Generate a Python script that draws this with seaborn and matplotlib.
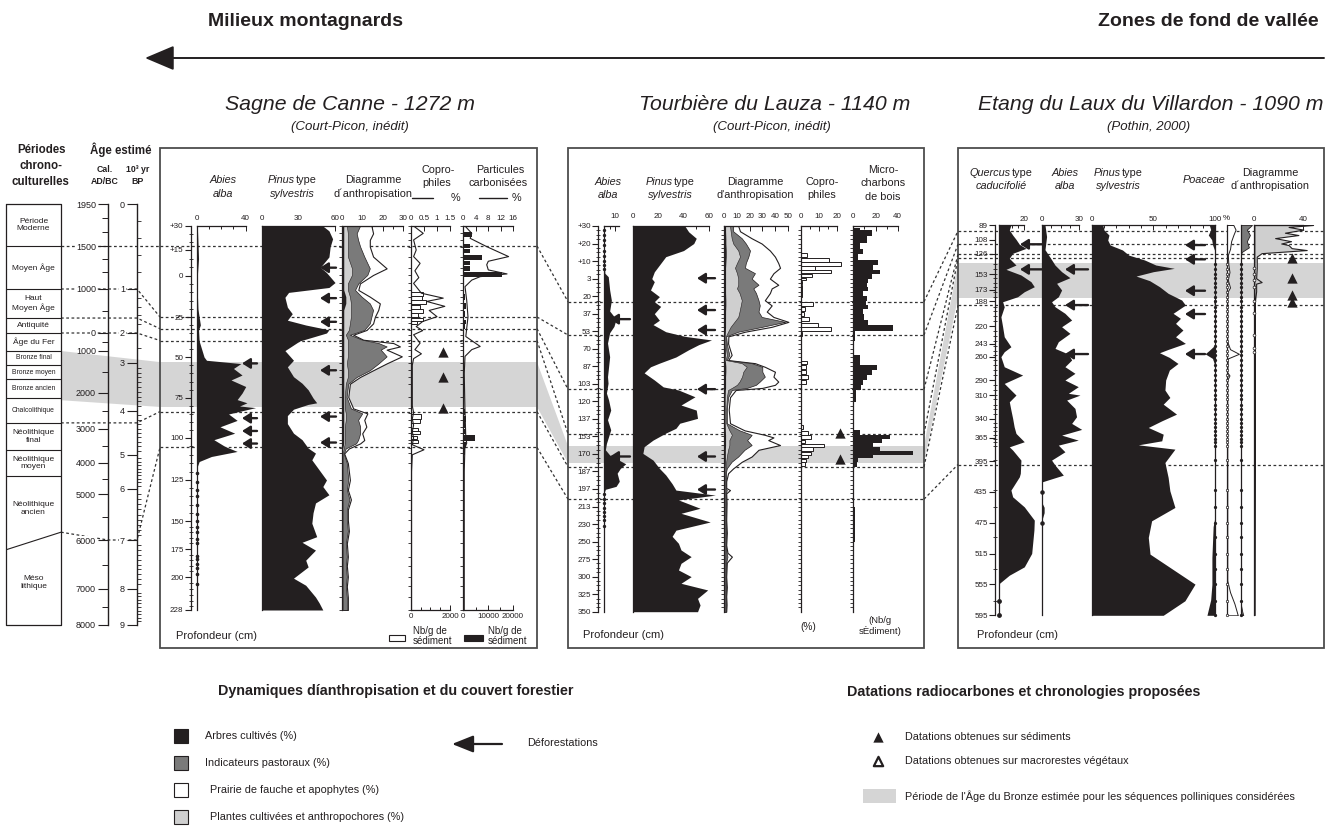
import numpy as np
import matplotlib
matplotlib.use("Agg")
import matplotlib.pyplot as plt
from matplotlib.patches import Rectangle, Polygon
from matplotlib.ticker import FixedLocator, NullLocator
import seaborn as sns

sns.set_theme(style="white")
plt.rcParams["font.family"] = ["Liberation Sans", "DejaVu Sans"]

# ======================= DATA =======================
# ---- chronology ----
CAL_TICKS = [1950, 1500, 1000, 0, -1000, -2000, -3000, -4000, -5000, -6000, -7000, -8000]
CAL_LABELS = ["1950", "1500", "1000", "0", "1000", "2000", "3000", "4000", "5000", "6000", "7000", "8000"]
CAL_MINOR = [1800, 1650, 1350, 1200, 500, -500, -1500, -2500, -3500, -4500, -5500, -6500, -7500]
BP_TICKS = [0, 1, 2, 3, 4, 5, 6, 7, 8, 9]
PERIODS = ["Période\nModerne", "Moyen Âge", "Haut\nMoyen Âge", "Antiquité", "Âge du Fer",
           "Bronze final", "Bronze moyen", "Bronze ancien", "Chalcolithique",
           "Néolithique\nfinal", "Néolithique\nmoyen", "Néolithique\nancien", "Méso\nlithique"]
PERIOD_LIMITS = [1950, 1500, 1000, 340, 0, -1000, -1330, -1670, -2140, -2830, -3620, -4420, -5830, -8000]
PERIOD_SLANT_LEFT = -6200
BRONZE_CAL = (-1000, -2200)
CHRONO_LINK_CAL = [1500, 1000, 340, 0, -2830]

# ---- Sagne de Canne ----
S_DEPTH_TICKS = [-30, -15, 0, 25, 50, 75, 100, 125, 150, 175, 200, 228]
S_DEPTH_LABELS = ["+30", "+15", "0", "25", "50", "75", "100", "125", "150", "175", "200", "228"]
S_ABIES_DEPTH = [-30, -20, -10, 0, 10, 20, 25, 30, 33, 40, 45, 50, 52, 54, 57, 61, 64, 68, 72, 76,
                 78, 80, 81, 85, 89, 93, 97, 101, 105, 108, 111, 114, 117, 120, 228]
S_ABIES = [0.5, 1, 1.5, 0.5, 0.5, 1, 2, 3, 1.5, 2, 4, 6, 8, 36, 30, 37, 28, 40, 37, 33,
           41, 35, 48, 26, 33, 19, 31, 14, 23, 33, 12, 2, 0.5, 0, 0]
S_ABIES_DOTS = [121, 126, 131, 135, 140, 146, 150, 155, 160, 166, 170, 181, 184, 188, 192, 197, 206]
S_PINUS_DEPTH = [-30, -27, -22, -17, -11, -5, -2, 4, 7, 10, 13, 19, 23, 27, 30, 33, 35, 40, 46, 52,
                 56, 62, 66, 70, 75, 78, 79, 82, 86, 91, 97, 101, 106, 109, 113, 119, 125, 129, 134, 139,
                 145, 152, 164, 169, 176, 185, 191, 201, 207, 217, 222, 228]
S_PINUS = [50, 55, 58, 56, 55, 48, 53, 60, 55, 22, 19, 21, 25, 21, 36, 55, 53, 31, 19, 26,
           21, 26, 33, 38, 42, 45, 38, 26, 21, 21, 26, 33, 38, 44, 41, 47, 53, 50, 55, 44,
           42, 41, 45, 33, 44, 36, 38, 26, 36, 44, 47, 50]
S_DIAG_DEPTH = [-30, -25.4, -21.3, -17.1, -11.2, -4.4, -0.6, 4.5, 8.5, 12.6, 16.7, 20.7, 24.8, 29, 33.1,
                36.1, 39.2, 41.3, 43.4, 45.4, 49.6, 53.9, 58.1, 62.2, 66.3, 74.4, 81.5, 84.6, 88.7, 92.9,
                97.1, 101.2, 103.2, 106.2, 109.2, 115, 125, 131, 136.9, 143, 149.4, 159, 170, 181.8, 190,
                199.7, 208, 217.3, 228]
S_DIAG_PRAIRIE = [14.5, 15.3, 13.7, 13.7, 15.3, 21.9, 15.3, 8.9, 8.1, 13.7, 18.6, 17.8, 16.2, 15.3, 12.1,
                  5.6, 10.5, 25.2, 28.4, 21.9, 29.3, 21.9, 15.3, 8.9, 4, 3.2, 5.6, 12.5, 11, 12,
                  10, 11, 9, 3.5, 1.2, 3, 4, 3, 4.5, 3, 3, 3.5, 2.5, 3, 2.5, 3, 2.5, 3, 3]
S_DIAG_PASTORAL = [8.9, 7.3, 8, 9, 11, 13.7, 12.5, 8.1, 6.5, 9.7, 13.7, 15.3, 14.5, 13.7, 11,
                   4, 10, 18, 21.9, 19, 21.9, 18, 13.7, 7.3, 3.2, 2.4, 4.5, 10, 8, 9,
                   9, 8, 7, 2, 1, 2.5, 3.2, 2.5, 3.8, 2.5, 2.5, 3, 2, 2.5, 2, 2.5, 2, 2.5, 2.5]
S_DIAG_CULTIVEES = [2.5, 3, 3, 3, 3, 5, 5, 3, 3, 4, 4.5, 4.5, 4.5, 4, 3.5,
                    2, 3, 3, 3, 3, 3, 2.5, 3, 3, 2, 1.5, 1.5, 2, 2, 1.5,
                    1.5, 1.5, 1.5, 1, 0.5, 0.5, 0.5, 0.5, 0.5, 0.5, 0.5, 0.5, 0.5, 0.5, 0.5, 0.5, 0.5, 0.5, 0.5]
S_DIAG_ARBRES = [1, 1, 1, 1, 1, 1, 1, 1, 1, 2, 2, 1, 1, 1, 1,
                 1, 1, 1, 1, 1, 1, 1, 1, 1, 1, 1, 1, 1, 1, 1,
                 1, 1, 1, 0.5, 0.3, 0.3, 0.3, 0.3, 0.3, 0.3, 0.3, 0.3, 0.3, 0.3, 0.3, 0.3, 0.3, 0.3, 0.3]
S_COPRO_PCT_DEPTH = [-30, -25.4, -21.3, -15, -11.2, -7.3, -3, 1, 4.5, 10.5, 13.5, 15.5, 18.5, 21, 24.8,
                     27.8, 31, 33.5, 36.1, 41.3, 45.4, 48, 51, 55, 60, 70, 80, 84, 88, 92,
                     96, 100, 104, 107, 110, 120, 150, 228]
S_COPRO_PCT = [0.1, 0.47, 0.1, 0.2, 0.1, 0.35, 0.15, 0.3, 0.1, 0.4, 1.24, 0.6, 1.3, 0.7, 1.0,
               0.45, 0.2, 0.45, 0.1, 0.35, 0.15, 0.4, 0.1, 0.05, 0.05, 0.05, 0.05, 0.1, 0.05, 0.1,
               0.05, 0.1, 0.05, 0.5, 0.05, 0.02, 0.02, 0.02]
S_COPRO_NB_DEPTH = [11, 13.5, 16, 19, 21.5, 24, 26.5, 28.5, 86.4, 89.5, 94.6, 96.7, 99.9, 102]
S_COPRO_NB = [630, 570, 780, 460, 630, 370, 630, 290, 520, 460, 375, 460, 290, 375]
S_CHAR_PCT_DEPTH = [-30, -25.4, -22.3, -17.1, -11.2, -8.5, -6.5, -3.5, -1.2, 0.4, 2.5, 6.5, 15, 25, 37.2,
                    43.4, 45.4, 49.6, 60, 80, 100, 103, 106, 120, 150, 228]
S_CHAR_PCT = [0.55, 2.7, 2.2, 7.5, 14.5, 8, 7.5, 8, 14, 5.4, 2.7, 0.55, 1.1, 1.5, 0.8,
              5.4, 2.7, 0.55, 0.3, 0.5, 0.8, 1.1, 0.5, 0.3, 0.3, 0.3]
S_CHAR_NB_DEPTH = [-24.5, -21, -17.5, -14.5, -10.8, -7.5, -4.5, -1, 2, 13, 18, 23, 28, 31, 84, 88, 92, 96,
                   99.9, 104, 108, 112]
S_CHAR_NB = [3400, 300, 2700, 2700, 7400, 2700, 2700, 15500, 400, 700, 900, 600, 1000, 700, 800, 1200,
             600, 900, 4700, 1000, 500, 300]
S_TRIANGLES = [47, 62, 81.5]
S_ARROWS_PINUS = [-4.8, 13.5, 28, 58.1, 86.6, 102.7]
S_ARROWS_ABIES = [53.9, 87.6, 95.6, 103.3]
S_LINES = [-17.5, 25, 32.3, 39.7, 83.5, 105.6]
S_BAND = (53.1, 80.6)

# ---- Tourbière du Lauza ----
L_DEPTH_TICKS = [-30, -20, -10, 3, 20, 37, 53, 70, 87, 103, 120, 137, 153, 170, 187, 197, 213, 230,
                 250, 275, 300, 325, 350]
L_DEPTH_LABELS = ["+30", "+20", "+10", "3", "20", "37", "53", "70", "87", "103", "120", "137", "153",
                  "170", "187", "197", "213", "230", "250", "275", "300", "325", "350"]
L_ABIES_DEPTH = [-30, -10, -1, 1.6, 14, 24, 34.4, 42, 48.6, 54.5, 64.5, 77.8, 87.5, 96.5, 102.5, 112,
                 118.7, 128.5, 137.8, 147, 159.8, 166, 171, 174.5, 179.6, 184, 188, 192.6, 195.5, 197.3,
                 200, 350]
L_ABIES = [0, 0, 0.5, 3.7, 5, 6.6, 5, 11, 9, 5, 3, 5, 4, 3, 3.5, 2, 4, 6, 3, 6,
           2, 1, 5, 11, 20, 15, 12, 14, 11, 1, 0, 0]
L_ABIES_DOTS = [-28, -25, -22, -19, -16, -13, -10, -7, -4, 202, 206, 210, 214, 218, 222, 226, 232]
L_PINUS_DEPTH = [-30, -26.7, -23, -20, -16, -12.5, -7, -2, 3, 6, 14, 20.5, 25.4, 30, 37, 43, 47, 53.5, 58,
                 61.5, 66, 71, 78, 84, 87.5, 93, 99.5, 106, 109, 115.6, 123.6, 128.5, 136.5, 141, 145.6,
                 150, 156.6, 163, 169.5, 176, 184, 189, 194, 198, 202.6, 207, 214.7, 219.6, 228, 237,
                 244, 252.5, 262, 271.5, 281, 290.5, 300, 309.5, 319, 331, 340.5, 350]
L_PINUS = [41, 44, 50, 48, 40, 26, 21, 17, 15, 17, 14, 21, 17, 22, 17, 21, 16, 26, 41, 62,
           52, 44, 34, 21, 14, 9, 17, 24, 36, 49, 38, 50, 51, 37, 34, 26, 16, 9, 8, 16,
           21, 26, 31, 34, 65, 36, 53, 38, 61, 34, 31, 36, 38, 46, 38, 36, 46, 38, 59, 51, 53, 51]
L_DIAG_DEPTH = [-30, -27, -23, -20, -16, -12.5, -8.5, -5, -1, 3, 9, 12.5, 17, 24, 29, 35, 40, 44.5, 49,
                53.5, 58, 65, 71, 76, 81, 84, 87.5, 92, 96.5, 101, 104, 107, 109, 116, 128, 141, 147.5,
                151.6, 154, 156.6, 161.4, 166, 172.5, 177.6, 184, 188, 192.6, 196.4, 198, 201, 210, 226,
                240, 255, 266, 271.5, 280, 300, 315, 328, 340, 350]
L_DIAG_PRAIRIE = [11, 12.4, 21.6, 29.5, 36, 40, 42.6, 44, 38.8, 36, 42.6, 37.4, 36, 32, 37.4, 33.5, 38.8,
                  50.6, 37.4, 16.3, 3.2, 3, 4.5, 5.8, 3, 24.2, 32, 40, 38.8, 42.6, 40, 30, 9, 4.5, 3.5,
                  4.5, 16, 32, 38.8, 34.7, 44, 27, 21.6, 13.8, 7, 3, 1.5, 1.5, 4.5, 1.5, 1.8, 1.5, 2,
                  1.5, 2.5, 6, 2, 1.5, 2, 1.5, 1.8, 1.5]
L_DIAG_PASTORAL = [7, 7, 13.8, 17, 20.3, 19, 17, 16.3, 24.2, 21.6, 27, 22.9, 25, 27, 28, 27, 29.5, 48, 30,
                   11, 1.5, 2, 3, 4, 2, 21.6, 30, 30, 32, 28, 25, 18, 6, 3, 2, 2, 12, 21.6, 20, 18, 21.6,
                   16, 11, 5.8, 2, 1.2, 1.2, 1.2, 2, 1.2, 1.4, 1.2, 1.5, 1.2, 1.8, 2.5, 1.5, 1.2, 1.5,
                   1.2, 1.4, 1.2]
L_DIAG_CULTIVEES = [4.5, 5, 5.8, 7, 11, 12.4, 10, 8.4, 10, 11, 11, 10, 12, 13.8, 13, 12, 11, 8, 5, 3,
                    1.2, 1.2, 1.5, 2, 1.2, 13.8, 17.7, 15, 14, 12, 10, 6, 3, 2, 1.5, 1.5, 4, 6, 5, 4,
                    4, 3, 2, 1.5, 1.2, 1, 1, 1, 1, 1, 1, 1, 1, 1, 1, 1, 1, 1, 1, 1, 1, 1]
L_DIAG_ARBRES = [1, 1, 1.2, 1.2, 1.5, 1.5, 1.2, 1, 1, 1, 1, 1, 1, 1.2, 1.2, 1, 1, 1, 1, 0.8,
                 0.6, 0.6, 0.8, 0.8, 0.6, 1, 1.2, 1.2, 1, 1, 1, 1, 0.8, 0.6, 0.6, 0.6, 0.8, 1, 1, 1,
                 1, 0.8, 0.8, 0.8, 0.6, 0.6, 0.6, 0.6, 0.6, 0.6, 0.6, 0.6, 0.6, 0.6, 0.6, 0.6, 0.6,
                 0.6, 0.6, 0.6, 0.6, 0.6]
L_COPRO_DEPTH = [-13.3, -10.6, -7.8, -5, -2.2, 0.7, 3.5, 7, 11, 15, 19, 27.7, 32.4, 37.3, 41.6, 47.4, 51,
                 55.6, 83.3, 88, 92.5, 97, 101.7, 144.2, 149.6, 153.6, 158, 161.7, 165.5, 169.5, 172.7,
                 176, 179.8]
L_COPRO = [3.2, 15.9, 22.5, 7.9, 16.7, 6.3, 2.6, 0.8, 0.8, 0.8, 0.8, 7, 2.3, 1.5, 4.5, 9.7, 16.7, 0.6,
           3.2, 2.8, 2.8, 4, 2.8, 1, 4, 5.6, 2.5, 13, 6.8, 5.5, 4, 3, 2]
L_MICRO_DEPTH = [-28.9, -26, -22.2, -18.2, -15.2, -12.3, -9.1, -5.4, -1.9, 1, 4.9, 9.1, 12.8, 17.6, 22.6,
                 27, 30.2, 34, 39.8, 45, 50.5, 55.6, 69.6, 83.3, 88, 92.5, 97, 101.7, 106.5, 112, 128.5,
                 145, 149.6, 153.8, 157.3, 161.4, 165.5, 169.5, 172.7, 176, 179.8, 185.5, 198, 229.6,
                 271.5, 319, 348]
L_MICRO = [6, 16.5, 12, 6, 9, 4.5, 22.5, 18, 24, 17, 13, 12, 13.5, 9, 12, 11, 13.5, 9, 10, 13,
           36, 1.5, 1, 6, 21, 16.5, 12, 9, 7, 2, 1, 1, 6, 33, 25.5, 18, 24, 54, 18, 4.5, 3, 1, 1, 1.5,
           1, 1, 1]
L_TRIANGLES = [150, 174.5]
L_ARROWS_ABIES = [42, 172.5]
L_ARROWS_PINUS = [2.7, 33.5, 51.9, 108.2, 172.5, 197.5]
L_LINES = [25.4, 56.7, 108.4, 150.7, 182.6, 206.3]
L_BAND = (162.3, 178.8)

# ---- Etang du Laux du Villardon ----
V_DEPTH_TICKS = [89, 108, 126, 153, 173, 188, 220, 243, 260, 290, 310, 340, 365, 395, 435, 475, 515,
                 555, 595]
V_SAMPLES = [140, 146, 152, 158, 164, 170, 176, 182, 188, 195, 201, 207, 214, 220, 227, 233, 240, 246,
             252, 258, 264, 270, 277, 283, 290, 296, 303, 309, 315, 322, 328, 334, 340, 346, 351, 356,
             361, 366, 370, 375, 394, 433, 455, 475, 494, 515, 535, 555, 576, 595]
V_QUERCUS_DEPTH = [89, 95.5, 102, 107.6, 114, 119.3, 125.7, 132.2, 140.9, 146.5, 153.8, 162.5, 169, 175.5,
                   182, 188.5, 195, 208, 221, 233.9, 246.8, 253.3, 259.8, 272.8, 283.6, 294.4, 303, 309.5,
                   318.2, 329, 339.7, 350.6, 359.2, 370, 376.6, 380.8, 393.8, 411, 415.5, 432.7, 441.4,
                   454.4, 471.6, 484.6, 514.8, 532.2, 543, 553.7, 595]
V_QUERCUS = [9.4, 8.1, 10.8, 13.5, 16.2, 21.6, 10.8, 8.1, 13.5, 5.4, 17.5, 25.6, 28.3, 20.2, 14.8, 2.7,
             4, 1.3, 2.7, 4, 9.4, 4, 1.3, 4, 18.9, 4, 9.4, 13.5, 8.1, 9.4, 10.8, 12, 13.5, 20.2, 8.1,
             10.8, 17.5, 17, 16.2, 9.4, 10.8, 20.2, 28.3, 28, 26.2, 20.2, 8.1, 0, 0]
V_QUERCUS_DOTS = [576, 595]
V_ABIES_DEPTH = [89, 104, 121, 134, 141, 149.5, 157.3, 164.6, 173.3, 182, 188.5, 195, 203.5, 212.2,
                 220.9, 229.5, 240.3, 249, 256.3, 264, 272.7, 281.3, 290, 298.6, 307.2, 309.5, 316,
                 326.8, 337.6, 346.2, 354, 361.4, 367.9, 374.4, 383, 393.8, 400.3, 413.3, 421.9, 450,
                 455, 462, 470, 595]
V_ABIES = [2.2, 3.5, 2.2, 7.6, 10.4, 15.8, 22.6, 11.7, 15.8, 13.1, 7.6, 10.4, 18.5, 24, 15.8, 22.6,
           13.1, 10.4, 21.3, 24, 18.5, 26.7, 18.5, 29.4, 21.3, 30.8, 19.9, 26.7, 28, 24, 32.2, 15.8,
           29.4, 13.1, 18.5, 7.6, 10.4, 17.2, 0, 0, 1.5, 1.5, 0, 0]
V_ABIES_DOTS = [435, 475]
V_PINUS_DEPTH = [89, 95.5, 102, 108.5, 115, 121.4, 128, 134.4, 140.9, 145.2, 149.5, 155.2, 161.2, 169,
                 177.6, 186.3, 192.8, 203.5, 210, 216.5, 225.2, 233.9, 242.5, 250.3, 254.6, 260.7, 268.5,
                 277, 290, 303, 312.6, 321.3, 334.2, 342.9, 351.5, 360.2, 368.8, 374, 379.6, 396.9,
                 416.3, 433.6, 455.2, 472.5, 494.1, 515.7, 554.6, 576.2, 595]
V_PINUS = [9, 10, 14, 13, 15, 25, 30, 43, 52, 67, 50, 36, 47, 55, 62, 73, 76, 66, 72, 68,
           74, 68, 76, 62, 55, 63, 70, 63, 60, 59.4, 63.4, 58, 68.8, 56.8, 45.9, 58, 56.8, 37.8, 67.5,
           59.4, 62, 63.4, 67.5, 48.6, 45.9, 47.3, 83.8, 75.6, 58]
V_POACEAE_DEPTH = [89, 95, 102, 108, 115, 122, 185, 188, 195, 245, 252, 256, 262, 270, 470, 480, 520,
                   555, 575, 595]
V_POACEAE = [4.6, 3.5, 5.4, 2.7, 1.9, 0.3, 0.3, 1, 0.3, 0.3, 5, 8, 2, 0.3, 0.3, 1.5, 2.5, 2.5, 3.5, 6.5]
V_OPEN_DEPTH = [89, 95, 102, 110, 120, 128, 140, 150, 160, 170, 175, 185, 240, 250, 256, 262, 280, 284,
                290, 550, 565, 580, 595]
V_OPEN = [6, 8, 6, 4, 3, 1, 1.5, 2.5, 1, 3, 1, 0.5, 0.5, 3, 11, 1, 0.5, 2.5, 0.5, 0.5, 3, 7, 10]
V_GREY_DEPTH = [89, 95, 102, 110, 118, 124, 130, 580, 590, 595]
V_GREY = [11, 6, 9, 6, 8, 1, 0, 0, 1.5, 2.5]
V_DIAG_DEPTH = [89, 91.5, 95, 99, 102, 106, 110, 113, 115, 119, 121.5, 125.5, 130, 145, 158, 163, 165,
                175, 188, 595]
V_DIAG = [48, 28, 40, 25, 36, 17, 30, 22, 28, 30.5, 42.8, 6, 2, 2, 1.5, 6, 1.5, 1.5, 0.5, 0]
V_DIAG_DOTS = [145, 152, 160, 170, 188, 203, 232, 249, 253]
V_TRIANGLES = [132.2, 157.3, 179.8, 188.5]
V_ARROWS_QUERCUS = [114, 146.5]
V_ARROWS_ABIES = [146.5, 192.8, 256.3]
V_ARROWS_PINUS = [115, 133.5, 174.2, 204.4, 256.3]
V_LINES = [96.8, 114, 127, 132.2, 193.2, 399.5]
V_BAND = (137.9, 183.3)

# ======================= LAYOUT =======================
W, H = 1342, 827
CAL_ROWS = [204, 246, 289, 333, 351, 393, 429, 463, 494, 540, 589, 625]
BP_ROWS = [204, 289, 333, 363, 411, 455, 489, 540, 589, 625]
S_ROWS = [226, 250, 276, 317, 357, 398, 438, 480, 521, 549, 577, 610]
INK = "#231f20"
DARKG = "#7a7a7a"
LIGHTG = "#cfcfcf"
BANDG = "#d5d5d5"
FRAME = "#4d4d4d"
DOTTED = dict(color="#333333", lw=0.9, ls=(0, (2.2, 2.0)))

fig = plt.figure(figsize=(W / 100, H / 100), dpi=100)
fig.patch.set_facecolor("white")


def add_px(x0, y0, x1, y1, z=1):
    ax = fig.add_axes([x0 / W, 1 - y1 / H, (x1 - x0) / W, (y1 - y0) / H])
    ax.set_zorder(z)
    ax.set_facecolor("none")
    return ax


bg = add_px(0, 0, W, H, z=0)
bg.set_xlim(0, W)
bg.set_ylim(H, 0)
bg.axis("off")


def interp_functions(xs, ys):
    xs = np.asarray(xs, float)
    ys = np.asarray(ys, float)

    def fwd(v):
        return np.interp(np.asarray(v, float), xs, ys)

    def inv(v):
        return np.interp(np.asarray(v, float), ys, xs)
    return fwd, inv


cal_scale = interp_functions(CAL_TICKS[::-1], [-r for r in CAL_ROWS[::-1]])
bp_scale = interp_functions(BP_TICKS, BP_ROWS)
s_scale = interp_functions(S_DEPTH_TICKS, S_ROWS)
l_scale = interp_functions(L_DEPTH_TICKS, np.arange(len(L_DEPTH_TICKS)))


def to_bg(ax, d):
    d = np.atleast_1d(np.asarray(d, float))
    pts = np.column_stack([np.zeros_like(d), d])
    disp = ax.transData.transform(pts)
    return bg.transData.inverted().transform(disp)[:, 1]


def column(x0, x1, y0, y1, yscale, ylim, xlim, ticks=None, labels=None, bound=None, minor=None,
           pad=3, ymarks=None, spine="left"):
    ax = add_px(x0, y0, x1, y1)
    if yscale is not None:
        ax.set_yscale("function", functions=yscale)
    ax.set_ylim(*ylim)
    ax.set_xlim(*xlim)
    for s in ("top", "bottom", "left", "right"):
        ax.spines[s].set_visible(False)
    ax.spines[spine].set_visible(True)
    ax.spines[spine].set_linewidth(0.9)
    ax.spines[spine].set_color(INK)
    ax.yaxis.set_major_locator(NullLocator())
    if ymarks is not None:
        ax.yaxis.set_minor_locator(FixedLocator(ymarks))
        ax.tick_params(axis="y", which="minor", left=(spine == "left"), right=(spine == "right"),
                       direction="out", length=2, width=0.6, color=INK)
    else:
        ax.yaxis.set_minor_locator(NullLocator())
    ax.tick_params(axis="y", labelleft=False, labelright=False)
    if ticks is not None:
        ax.spines["top"].set_visible(True)
        ax.spines["top"].set_linewidth(0.9)
        ax.spines["top"].set_color(INK)
        ax.spines["top"].set_bounds(*bound)
        ax.xaxis.set_ticks_position("top")
        ax.set_xticks(ticks, labels=labels)
        ax.xaxis.set_minor_locator(FixedLocator(minor or []))
        ax.tick_params(axis="x", which="both", top=True, bottom=False, labeltop=True, labelbottom=False,
                       direction="in", width=0.7, color=INK, labelsize=5.8, pad=pad, labelcolor=INK)
        ax.tick_params(axis="x", which="major", length=3.5)
        ax.tick_params(axis="x", which="minor", length=2.2)
    else:
        ax.set_xticks([])
        ax.xaxis.set_minor_locator(NullLocator())
    return ax


def depth_axis(x, y0, y1, yscale, ylim, ticks, labels, minor):
    ax = add_px(x, y0, x + 1, y1)
    if yscale is not None:
        ax.set_yscale("function", functions=yscale)
    ax.set_ylim(*ylim)
    for s in ("top", "right", "bottom"):
        ax.spines[s].set_visible(False)
    ax.spines["left"].set_color(INK)
    ax.spines["left"].set_linewidth(0.9)
    ax.set_xticks([])
    ax.set_yticks(ticks, labels=labels)
    ax.yaxis.set_minor_locator(FixedLocator(minor))
    ax.tick_params(axis="y", which="major", left=True, direction="out", length=4, width=0.8,
                   labelsize=5.8, pad=1.2, color=INK, labelcolor=INK)
    ax.tick_params(axis="y", which="minor", left=True, direction="inout", length=3, width=0.6, color=INK)
    return ax


def bar_heights(d, cap=4.5):
    d = np.asarray(d, float)
    g = np.diff(d)
    left = np.r_[g[0], g]
    right = np.r_[g, g[-1]]
    return np.minimum(np.minimum(left, right), cap) * 0.92


def arrow(xh, xt, y, ms=8):
    bg.annotate("", xy=(xh, y), xytext=(xt, y),
                arrowprops=dict(arrowstyle="-|>,head_length=0.6,head_width=0.38", lw=1.7, color=INK,
                                shrinkA=0, shrinkB=0, mutation_scale=ms))


def txt(x, y, s, size=7.8, **kw):
    kw.setdefault("ha", "center")
    kw.setdefault("va", "center")
    kw.setdefault("color", INK)
    return bg.text(x, y, s, fontsize=size, **kw)


def type_title(cx, y, word, off):
    txt(cx + off, y, word, ha="right", style="italic")
    txt(cx + off + 1, y, "type", ha="left")


# ---------------- chronology ----------------
ax_per = add_px(6, CAL_ROWS[0], 61, CAL_ROWS[-1])
ax_per.set_yscale("function", functions=cal_scale)
ax_per.set_ylim(-8000, 1950)
ax_per.set_xlim(0, 1)
ax_per.axis("off")
ax_per.plot([0, 1, 1, 0, 0], [1950, 1950, -8000, -8000, 1950], color=INK, lw=0.9, clip_on=False)
for b in PERIOD_LIMITS[1:-2]:
    ax_per.plot([0, 1], [b, b], color=INK, lw=0.8)
ax_per.plot([0, 1], [PERIOD_SLANT_LEFT, PERIOD_LIMITS[-2]], color=INK, lw=0.8)
fwd_c, inv_c = cal_scale
for i, name in enumerate(PERIODS):
    top, bot = PERIOD_LIMITS[i], PERIOD_LIMITS[i + 1]
    if i == 11:
        bot = (PERIOD_SLANT_LEFT + PERIOD_LIMITS[-2]) / 2
    if i == 12:
        top = (PERIOD_SLANT_LEFT + PERIOD_LIMITS[-2]) / 2
    mid = inv_c((fwd_c(top) + fwd_c(bot)) / 2)
    small = name.startswith("Bronze") or name.startswith("Chalco")
    ax_per.text(0.5, float(mid), name, ha="center", va="center", fontsize=4.9 if small else 6.0,
                color=INK, linespacing=1.15)

ax_cal = add_px(107.7, CAL_ROWS[0], 108.7, CAL_ROWS[-1])
ax_cal.set_yscale("function", functions=cal_scale)
ax_cal.set_ylim(-8000, 1950)
for s in ("top", "right", "bottom"):
    ax_cal.spines[s].set_visible(False)
ax_cal.spines["left"].set_color(INK)
ax_cal.spines["left"].set_linewidth(1.0)
ax_cal.set_xticks([])
ax_cal.set_yticks(CAL_TICKS, labels=CAL_LABELS)
ax_cal.yaxis.set_minor_locator(FixedLocator(CAL_MINOR))
ax_cal.tick_params(axis="y", which="major", left=True, direction="out", length=7, width=0.8,
                   labelsize=6.5, pad=1.5, color=INK, labelcolor=INK)
ax_cal.tick_params(axis="y", which="minor", left=True, direction="out", length=4, width=0.7, color=INK)
for v, lab in zip(CAL_TICKS, ax_cal.get_yticklabels()):
    if v in (1500, 1000, 0, -6000):
        lab.set_bbox(dict(facecolor="white", edgecolor="none", pad=0.6))

ax_bp = add_px(136.7, BP_ROWS[0], 137.7, BP_ROWS[-1])
ax_bp.set_yscale("function", functions=bp_scale)
ax_bp.set_ylim(9, 0)
for s in ("top", "right", "bottom"):
    ax_bp.spines[s].set_visible(False)
ax_bp.spines["left"].set_color(INK)
ax_bp.spines["left"].set_linewidth(1.0)
ax_bp.set_xticks([])
ax_bp.set_yticks(BP_TICKS, labels=[str(b) for b in BP_TICKS])
bp_minor = [m for m in np.round(np.r_[np.arange(0.2, 2.0, 0.2), [2.5], np.arange(3.1, 9.0, 0.1)], 2)
            if abs(m - round(m)) > 1e-6]
ax_bp.yaxis.set_minor_locator(FixedLocator(bp_minor))
ax_bp.tick_params(axis="y", which="major", left=True, direction="out", length=7, width=0.8,
                  labelsize=6.5, pad=1.5, color=INK, labelcolor=INK)
ax_bp.tick_params(axis="y", which="minor", left=True, direction="in", length=3, width=0.6, color=INK)
for v, lab in zip(BP_TICKS, ax_bp.get_yticklabels()):
    if v in (1, 2, 7):
        lab.set_bbox(dict(facecolor="white", edgecolor="none", pad=0.6))

txt(41, 150, "Périodes", 8.3, weight="bold")
txt(41, 166, "chrono-", 8.3, weight="bold")
txt(40, 182, "culturelles", 8.3, weight="bold")
txt(121, 150, "Âge estimé", 8.3, weight="bold")
txt(105, 170, "Cal.", 6.3, weight="bold")
txt(105, 182, "AD/BC", 6.3, weight="bold")
txt(138, 170, "10³ yr", 6.3, weight="bold")
txt(138, 182, "BP", 6.3, weight="bold")

# ---------------- Sagne de Canne ----------------
SY0, SY1 = S_ROWS[0], S_ROWS[-1]
SYL = (228, -30)
depth_axis(190.7, SY0, SY1, s_scale, SYL, S_DEPTH_TICKS, S_DEPTH_LABELS, list(range(-25, 228, 5)))

ax_sa = column(196.7, 258, SY0, SY1, s_scale, SYL, (0, 50), [0, 40], ["0", "40"], (0, 40),
               [10, 20, 30])
ax_sa.fill_betweenx(S_ABIES_DEPTH, 0, S_ABIES, color=INK, lw=0)
ax_sa.scatter(np.zeros(len(S_ABIES_DOTS)), S_ABIES_DOTS, s=2.5, color=INK, clip_on=False, zorder=3)

ax_sp = column(261.7, 337.5, SY0, SY1, s_scale, SYL, (0, 62), [0, 30, 60], ["0", "30", "60"], (0, 60),
               [10, 20, 40, 50])
ax_sp.fill_betweenx(S_PINUS_DEPTH, 0, S_PINUS, color=INK, lw=0)

ax_sd = column(341.7, 405.3, SY0, SY1, s_scale, SYL, (0, 31), [0, 10, 20, 30], ["0", "10", "20", "30"],
               (0, 30), [5, 15, 25], ymarks=S_DIAG_DEPTH)
ax_sd.fill_betweenx(S_DIAG_DEPTH, 0, S_DIAG_PRAIRIE, facecolor="white", edgecolor=INK, lw=0.8)
ax_sd.fill_betweenx(S_DIAG_DEPTH, 0, S_DIAG_PASTORAL, facecolor=DARKG, edgecolor=INK, lw=0.5)
ax_sd.fill_betweenx(S_DIAG_DEPTH, 0, S_DIAG_CULTIVEES, facecolor=LIGHTG, edgecolor=INK, lw=0.4)
ax_sd.fill_betweenx(S_DIAG_DEPTH, 0, S_DIAG_ARBRES, facecolor=INK, lw=0)

# coprophiles (bars = Nb/g, line = %)
ax_sc = column(411, 451.3, SY0, SY1, s_scale, SYL, (0, 2067), ymarks=S_DIAG_DEPTH)
ax_sc.barh(S_COPRO_NB_DEPTH, S_COPRO_NB, height=bar_heights(S_COPRO_NB_DEPTH), color="white",
           edgecolor=INK, lw=0.7)
ax_sc.spines["bottom"].set_visible(True)
ax_sc.spines["bottom"].set_bounds(0, 2000)
ax_sc.spines["bottom"].set_color(INK)
ax_sc.spines["bottom"].set_linewidth(0.9)
ax_sc.xaxis.set_ticks_position("bottom")
ax_sc.set_xticks([0, 2000], labels=["0", "2000"])
ax_sc.xaxis.set_minor_locator(FixedLocator([500, 1000, 1500]))
ax_sc.tick_params(axis="x", which="both", bottom=True, labelbottom=True, direction="in", width=0.7,
                  color=INK, labelsize=5.8, pad=2.5, labelcolor=INK)
ax_sc.tick_params(axis="x", which="major", length=3.5)
ax_sc.tick_params(axis="x", which="minor", length=2.2)
axt = ax_sc.twiny()
sns.lineplot(x=S_COPRO_PCT, y=S_COPRO_PCT_DEPTH, orient="y", estimator=None, sort=True, color=INK,
             linewidth=0.8, ax=axt, legend=False)
axt.set_xlim(0, 1.55)
axt.set_xlabel("")
axt.set_ylabel("")
for s in ("left", "right", "bottom"):
    axt.spines[s].set_visible(False)
axt.spines["top"].set_bounds(0, 1.5)
axt.spines["top"].set_color(INK)
axt.spines["top"].set_linewidth(0.9)
axt.set_xticks([0, 0.5, 1, 1.5], labels=["0", "0.5", "1", "1.5"])
axt.xaxis.set_minor_locator(NullLocator())
axt.tick_params(axis="x", top=True, direction="in", length=3.5, width=0.7, color=INK, labelsize=5.8,
                pad=3, labelcolor=INK)

# particules carbonisees
ax_sk = column(463.3, 514, SY0, SY1, s_scale, SYL, (0, 20526), ymarks=S_DIAG_DEPTH)
ax_sk.barh(S_CHAR_NB_DEPTH, S_CHAR_NB, height=bar_heights(S_CHAR_NB_DEPTH, 4.0), color=INK, lw=0)
ax_sk.spines["bottom"].set_visible(True)
ax_sk.spines["bottom"].set_bounds(0, 20000)
ax_sk.spines["bottom"].set_color(INK)
ax_sk.spines["bottom"].set_linewidth(0.9)
ax_sk.xaxis.set_ticks_position("bottom")
ax_sk.set_xticks([0, 10000, 20000], labels=["0", "10000", "20000"])
ax_sk.xaxis.set_minor_locator(FixedLocator([5000, 15000]))
ax_sk.tick_params(axis="x", which="both", bottom=True, labelbottom=True, direction="in", width=0.7,
                  color=INK, labelsize=5.8, pad=2.5, labelcolor=INK)
ax_sk.tick_params(axis="x", which="major", length=3.5)
ax_sk.tick_params(axis="x", which="minor", length=2.2)
axk = ax_sk.twiny()
sns.lineplot(x=S_CHAR_PCT, y=S_CHAR_PCT_DEPTH, orient="y", estimator=None, sort=True, color=INK,
             linewidth=0.8, ax=axk, legend=False)
axk.set_xlim(0, 16.23)
axk.set_xlabel("")
axk.set_ylabel("")
for s in ("left", "right", "bottom"):
    axk.spines[s].set_visible(False)
axk.spines["top"].set_bounds(0, 16)
axk.spines["top"].set_color(INK)
axk.spines["top"].set_linewidth(0.9)
axk.set_xticks([0, 4, 8, 12, 16], labels=["0", "4", "8", "12", "16"])
axk.xaxis.set_minor_locator(NullLocator())
axk.tick_params(axis="x", top=True, direction="in", length=3.5, width=0.7, color=INK, labelsize=5.8,
                pad=3, labelcolor=INK)

# ---------------- Tourbiere du Lauza ----------------
LY0, LY1 = 226, 611.7
LYL = (350, -30)
l_minor = list(l_scale[1](np.arange(0.25, 22, 0.25)))
depth_axis(598.3, LY0, LY1, l_scale, LYL, L_DEPTH_TICKS, L_DEPTH_LABELS, l_minor)

ax_la = column(604.3, 626.8, LY0, LY1, l_scale, LYL, (0, 21), [0, 10], ["", "10"], (0, 14), [5], pad=4)
ax_la.fill_betweenx(L_ABIES_DEPTH, 0, L_ABIES, color=INK, lw=0)
ax_la.scatter(np.zeros(len(L_ABIES_DOTS)), L_ABIES_DOTS, s=2, color=INK, clip_on=False, zorder=3)

ax_lp = column(632.7, 716.6, LY0, LY1, l_scale, LYL, (0, 66), [0, 20, 40, 60], ["0", "20", "40", "60"],
               (0, 60), [10, 30, 50], pad=4)
ax_lp.fill_betweenx(L_PINUS_DEPTH, 0, L_PINUS, color=INK, lw=0)

ax_ld = column(724.3, 788.9, LY0, LY1, l_scale, LYL, (0, 51), [0, 10, 20, 30, 40, 50],
               ["0", "10", "20", "30", "40", "50"], (0, 50), [], pad=4, ymarks=l_minor)
ax_ld.fill_betweenx(L_DIAG_DEPTH, 0, L_DIAG_PRAIRIE, facecolor="white", edgecolor=INK, lw=0.8)
ax_ld.fill_betweenx(L_DIAG_DEPTH, 0, L_DIAG_PASTORAL, facecolor=DARKG, edgecolor=INK, lw=0.5)
ax_ld.fill_betweenx(L_DIAG_DEPTH, 0, L_DIAG_CULTIVEES, facecolor=LIGHTG, edgecolor=INK, lw=0.4)
ax_ld.fill_betweenx(L_DIAG_DEPTH, 0, L_DIAG_ARBRES, facecolor=INK, lw=0)

ax_lc = column(801, 842, LY0, LY1, l_scale, LYL, (0, 23), [0, 10, 20], ["0", "10", "20"], (0, 20),
               [5, 15], pad=4, ymarks=l_minor)
ax_lc.barh(L_COPRO_DEPTH, L_COPRO, height=bar_heights(L_COPRO_DEPTH, 4.0), color="white",
           edgecolor=INK, lw=0.7)

ax_lm = column(853.3, 914.4, LY0, LY1, l_scale, LYL, (0, 55), [0, 20, 40], ["0", "20", "40"], (0, 40),
               [10, 30], pad=4, ymarks=l_minor)
ax_lm.fill_betweenx(L_MICRO_DEPTH, 0, L_MICRO, step="mid", color=INK, lw=0)

# ---------------- Etang du Laux du Villardon ----------------
VY0, VY1 = 225, 615.3
VYL = (595, 89)
depth_axis(995, VY0, VY1, None, VYL, V_DEPTH_TICKS, [str(v) for v in V_DEPTH_TICKS], V_SAMPLES)

ax_vq = column(999.3, 1036.4, VY0, VY1, None, VYL, (0, 30), [0, 20], ["", "20"], (0, 20), [5, 10, 15],
               pad=1.5)
ax_vq.fill_betweenx(V_QUERCUS_DEPTH, 0, V_QUERCUS, color=INK, lw=0)
ax_vq.scatter(np.zeros(len(V_QUERCUS_DOTS)), V_QUERCUS_DOTS, s=6, color=INK, clip_on=False, zorder=3)

ax_va = column(1042.3, 1083.9, VY0, VY1, None, VYL, (0, 34), [0, 30], ["0", "30"], (0, 30),
               [7.5, 15, 22.5], pad=1.5)
ax_va.fill_betweenx(V_ABIES_DEPTH, 0, V_ABIES, color=INK, lw=0)
ax_va.scatter(np.zeros(len(V_ABIES_DOTS)), V_ABIES_DOTS, s=5, color=INK, clip_on=False, zorder=3)

ax_vp = column(1091.7, 1215, VY0, VY1, None, VYL, (0, 100), [0, 50, 100], ["0", "50", "100"], (0, 100),
               [10, 20, 30, 40, 60, 70, 80, 90], pad=1.5)
ax_vp.fill_betweenx(V_PINUS_DEPTH, 0, V_PINUS, color=INK, lw=0)

ax_vo = column(1203, 1215, VY0, VY1, None, VYL, (9.7, 0), spine="right")
ax_vo.fill_betweenx(V_POACEAE_DEPTH, 0, V_POACEAE, color=INK, lw=0)
ax_vo.scatter(np.zeros(len(V_SAMPLES)), V_SAMPLES, s=1.8, color=INK, clip_on=False, zorder=3)

ax_vw = column(1226.7, 1240, VY0, VY1, None, VYL, (0, 12))
ax_vw.fill_betweenx(V_OPEN_DEPTH, 0, V_OPEN, facecolor="white", edgecolor=INK, lw=0.7)
ax_vw.scatter(np.zeros(len(V_SAMPLES)), V_SAMPLES, s=3, facecolor="white", edgecolor=INK, lw=0.5,
              clip_on=False, zorder=3)

ax_vg = column(1240.7, 1253, VY0, VY1, None, VYL, (0, 12))
ax_vg.fill_betweenx(V_GREY_DEPTH, 0, V_GREY, facecolor=DARKG, edgecolor=INK, lw=0.6)
ax_vg.scatter(np.zeros(len(V_SAMPLES)), V_SAMPLES, s=1.8, color=INK, clip_on=False, zorder=3)

ax_vd = column(1254.3, 1314.3, VY0, VY1, None, VYL, (0, 49), [0, 40], ["0", "40"], (0, 40),
               [10, 20, 30], pad=1.5)
ax_vd.fill_betweenx(V_DIAG_DEPTH, 0, V_DIAG, facecolor=LIGHTG, edgecolor=INK, lw=0.8)
ax_vd.scatter(np.zeros(len(V_DIAG_DOTS)), V_DIAG_DOTS, s=4, facecolor="white", edgecolor=INK, lw=0.5,
              clip_on=False, zorder=3)

# ---------------- background: band, frames, connectors ----------------
st, sb = to_bg(ax_sp, S_BAND)
lt, lb = to_bg(ax_lp, L_BAND)
vt, vb = to_bg(ax_vp, V_BAND)
ct, cb = [float(to_bg(ax_cal, c)[0]) for c in BRONZE_CAL]
SX0, SX1 = 160, 537
LX0, LX1 = 568, 924
VX0, VX1 = 958, 1324
band = [[(61, ct), (SX0, st), (SX0, sb), (61, cb)],
        [(SX0, st), (SX1, st), (SX1, sb), (SX0, sb)],
        [(SX1, st), (LX0, lt), (LX0, lb), (SX1, sb)],
        [(LX0, lt), (LX1, lt), (LX1, lb), (LX0, lb)],
        [(LX1, lt), (VX0, vt), (VX0, vb), (LX1, lb)],
        [(VX0, vt), (VX1, vt), (VX1, vb), (VX0, vb)]]
for poly in band:
    bg.add_patch(Polygon(poly, closed=True, facecolor=BANDG, edgecolor="none", zorder=1))

for (x0, x1) in ((SX0, SX1), (LX0, LX1), (VX0, VX1)):
    bg.add_patch(Rectangle((x0, 148), x1 - x0, 500, facecolor="none", edgecolor=FRAME, lw=1.3, zorder=2))

s_y = to_bg(ax_sp, S_LINES)
l_y = to_bg(ax_lp, L_LINES)
v_y = to_bg(ax_vp, V_LINES)
for cal, sy in zip(CHRONO_LINK_CAL, s_y[:5]):
    cy = float(to_bg(ax_cal, cal)[0])
    bg.plot([61, 137, SX0], [cy, cy, sy], zorder=3, **DOTTED)
sl_y = float(to_bg(ax_cal, PERIOD_LIMITS[-2])[0])
c6_y = float(to_bg(ax_cal, -6000)[0])
bg.plot([61, 108, 137, SX0], [sl_y, c6_y, c6_y, s_y[5]], zorder=3, **DOTTED)
for y in s_y:
    bg.plot([SX0, SX1], [y, y], zorder=3, **DOTTED)
for y in l_y:
    bg.plot([LX0, LX1], [y, y], zorder=3, **DOTTED)
for y in v_y:
    bg.plot([VX0, VX1], [y, y], zorder=3, **DOTTED)
for a, b in zip(s_y, l_y):
    bg.plot([SX1, LX0], [a, b], zorder=3, **DOTTED)
for a, b in zip(l_y, v_y):
    bg.plot([LX1, VX0], [a, b], zorder=3, **DOTTED)

# ---------------- arrows & triangles ----------------
for d in S_ARROWS_PINUS:
    arrow(320, 336, float(to_bg(ax_sp, d)[0]))
for d in S_ARROWS_ABIES:
    arrow(242, 257, float(to_bg(ax_sa, d)[0]))
for d in L_ARROWS_ABIES:
    arrow(610, 630, float(to_bg(ax_la, d)[0]))
for d in L_ARROWS_PINUS:
    arrow(697, 715, float(to_bg(ax_lp, d)[0]))
for d in V_ARROWS_QUERCUS:
    arrow(1020, 1042, float(to_bg(ax_vq, d)[0]))
for d in V_ARROWS_ABIES:
    arrow(1065, 1088, float(to_bg(ax_va, d)[0]))
for d in V_ARROWS_PINUS:
    arrow(1185, 1205, float(to_bg(ax_vp, d)[0]))

for ax_, xs, ds in ((ax_sc, 443, S_TRIANGLES), (ax_lc, 840, L_TRIANGLES), (ax_vd, 1291.7, V_TRIANGLES)):
    ys = to_bg(ax_, ds)
    bg.scatter(np.full(len(ys), xs), ys, marker="^", s=55, color=INK, zorder=5, linewidths=0)

# ---------------- texts ----------------
txt(305, 22, "Milieux montagnards", 14, weight="bold")
txt(1208, 22, "Zones de fond de vallée", 14, weight="bold")
bg.annotate("", xy=(145, 58), xytext=(1324, 58),
            arrowprops=dict(arrowstyle="-|>,head_length=1.3,head_width=0.55", lw=1.4, color=INK,
                            shrinkA=0, shrinkB=0, mutation_scale=14))

txt(350, 104, "Sagne de Canne - 1272 m", 15.3, style="italic")
txt(350, 127, "(Court-Picon, inédit)", 9.5, style="italic")
txt(775, 104, "Tourbière du Lauza - 1140 m", 15.3, style="italic")
txt(772, 127, "(Court-Picon, inédit)", 9.5, style="italic")
txt(1151, 104, "Etang du Laux du Villardon - 1090 m", 15.3, style="italic")
txt(1149, 127, "(Pothin, 2000)", 9.5, style="italic")

# Sagne column titles
txt(223, 180, "Abies", style="italic")
txt(223, 194, "alba", style="italic")
type_title(292, 180, "Pinus", 3)
txt(292, 194, "sylvestris", style="italic")
txt(373, 180, "Diagramme")
txt(373, 194, "d´anthropisation")
txt(438, 170, "Copro-")
txt(437, 183, "philes")
bg.plot([412, 433], [197.5, 197.5], color=INK, lw=1.0)
txt(455, 198, "%")
txt(500, 170, "Particules")
txt(498, 183, "carbonisées")
bg.plot([479, 507], [197.5, 197.5], color=INK, lw=1.0)
txt(516, 198, "%")
txt(176, 636, "Profondeur (cm)", 8, ha="left")
bg.add_patch(Rectangle((389, 635), 16, 6, facecolor="white", edgecolor=INK, lw=0.8))
txt(413, 636, "Nb/g de\nsédiment", 7, ha="left", linespacing=1.05)
bg.add_patch(Rectangle((464, 635), 19, 6, facecolor=INK, edgecolor=INK, lw=0.8))
txt(488, 636, "Nb/g de\nsédiment", 7, ha="left", linespacing=1.05)

# Lauza column titles
txt(608, 182, "Abies", style="italic")
txt(608, 195, "alba", style="italic")
type_title(670, 182, "Pinus", 3)
txt(670, 195, "sylvestris", style="italic")
txt(755, 182, "Diagramme")
txt(755, 195, "d'anthropisation")
txt(822, 182, "Copro-")
txt(822, 195, "philes")
txt(883, 170, "Micro-")
txt(883, 183, "charbons")
txt(883, 197, "de bois")
txt(583, 635, "Profondeur (cm)", 8, ha="left")
txt(808, 627, "(%)", 7.3)
txt(880, 626, "(Nb/g\nsÈdiment)", 6.8, linespacing=1.05)

# Villardon column titles
type_title(1001, 173, "Quercus", 10)
txt(1001, 186, "caducifolié", style="italic")
txt(1065, 173, "Abies", style="italic")
txt(1065, 186, "alba", style="italic")
type_title(1118, 173, "Pinus", 3)
txt(1118, 186, "sylvestris", style="italic")
txt(1204, 180, "Poaceae", style="italic")
txt(1270, 173, "Diagramme")
txt(1270, 186, "d´anthropisation")
txt(1226, 219, "%", 5.8)
txt(977, 635, "Profondeur (cm)", 8, ha="left")

# ---------------- legends ----------------
txt(396, 691, "Dynamiques díanthropisation et du couvert forestier", 10.3, weight="bold")
leg_items = [(INK, "Arbres cultivés (%)", 205), (DARKG, "Indicateurs pastoraux (%)", 205),
             ("white", "Prairie de fauche et apophytes (%)", 210),
             (LIGHTG, "Plantes cultivées et anthropochores (%)", 210)]
for i, (col, lab, tx) in enumerate(leg_items):
    yy = 729 + i * 27
    bg.add_patch(Rectangle((174, yy), 14, 14, facecolor=col, edgecolor=INK, lw=0.8))
    txt(tx, yy + 7, lab, 7.8, ha="left")
bg.annotate("", xy=(452, 744), xytext=(502, 744),
            arrowprops=dict(arrowstyle="-|>,head_length=1.0,head_width=0.4", lw=1.6, color=INK,
                            shrinkA=0, shrinkB=0, mutation_scale=13))
txt(527, 743, "Déforestations", 7.8, ha="left")

txt(847, 692, "Datations radiocarbones et chronologies proposées", 10.3, weight="bold", ha="left")
bg.scatter([878], [737], marker="^", s=55, color=INK, linewidths=0)
txt(905, 737, "Datations obtenues sur sédiments", 7.8, ha="left")
bg.scatter([878], [761], marker="^", s=45, facecolor="white", edgecolor=INK, linewidths=1.6)
txt(905, 761, "Datations obtenues sur macrorestes végétaux", 7.8, ha="left")
bg.add_patch(Rectangle((862.7, 789), 33.3, 14, facecolor=BANDG, edgecolor="none"))
txt(905, 796, "Période de l'Âge du Bronze estimée pour les séquences polliniques considérées", 7.8,
    ha="left")

fig.savefig("out.png", dpi=100)
